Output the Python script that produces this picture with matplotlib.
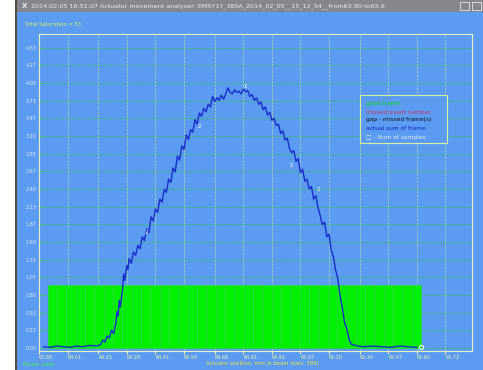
import numpy as np
from matplotlib import pyplot as plt
from matplotlib.patches import Rectangle

# actuator position (mm) and movement readings along the curve
pos = [63.90, 63.93, 63.96, 63.99, 64.02, 64.05, 64.08, 64.11, 64.14, 64.16,
       64.17, 64.18, 64.19, 64.20, 64.21, 64.22, 64.23, 64.235, 64.24, 64.245,
       64.25, 64.26, 64.265, 64.27, 64.28, 64.285, 64.29, 64.30, 64.31, 64.32,
       64.33, 64.34, 64.35, 64.36, 64.37, 64.38, 64.39, 64.40, 64.41, 64.42,
       64.43, 64.44, 64.45, 64.46, 64.47, 64.48, 64.49, 64.50, 64.51, 64.52,
       64.53, 64.54, 64.55, 64.56, 64.57, 64.58, 64.59, 64.60, 64.61, 64.62,
       64.63, 64.64, 64.65, 64.66, 64.67, 64.68, 64.69, 64.70, 64.71, 64.72,
       64.73, 64.74, 64.75, 64.76, 64.77, 64.78, 64.79, 64.80, 64.81, 64.82,
       64.83, 64.84, 64.85, 64.86, 64.87, 64.88, 64.89, 64.90, 64.91, 64.92,
       64.93, 64.94, 64.95, 64.96, 64.97, 64.98, 64.99, 65.00, 65.01, 65.02,
       65.03, 65.04, 65.05, 65.06, 65.07, 65.08, 65.09, 65.10, 65.11, 65.12,
       65.13, 65.14, 65.15, 65.16, 65.17, 65.18, 65.19, 65.20, 65.21, 65.22,
       65.23, 65.24, 65.25, 65.26, 65.27, 65.28, 65.29, 65.30, 65.33, 65.36,
       65.40, 65.44, 65.48, 65.52, 65.56, 65.60]
move = [0.02, 0.01, 0.03, 0.02, 0.01, 0.03, 0.02, 0.04, 0.03, 0.05,
        0.12, 0.09, 0.18, 0.15, 0.27, 0.22, 0.38, 0.55, 0.48, 0.72,
        0.62, 0.88, 1.12, 1.02, 1.25, 1.18, 1.35, 1.28, 1.45, 1.40,
        1.55, 1.50, 1.68, 1.62, 1.80, 1.74, 1.98, 1.92, 2.10, 2.05,
        2.25, 2.20, 2.40, 2.35, 2.55, 2.50, 2.72, 2.66, 2.90, 2.84,
        3.05, 3.00, 3.22, 3.15, 3.30, 3.26, 3.45, 3.38, 3.55, 3.50,
        3.62, 3.57, 3.68, 3.64, 3.80, 3.72, 3.78, 3.74, 3.82, 3.76,
        3.84, 3.93, 3.86, 3.84, 3.90, 3.86, 3.88, 3.84, 3.91, 3.87,
        3.89, 3.80, 3.83, 3.74, 3.78, 3.68, 3.72, 3.60, 3.64, 3.52,
        3.56, 3.44, 3.47, 3.36, 3.38, 3.24, 3.28, 3.14, 3.17, 3.02,
        2.95, 2.98, 2.82, 2.86, 2.65, 2.70, 2.52, 2.55, 2.40, 2.44,
        2.25, 2.30, 2.12, 2.00, 1.86, 1.90, 1.68, 1.72, 1.48, 1.38,
        1.18, 1.05, 0.80, 0.62, 0.40, 0.30, 0.15, 0.06, 0.03, 0.02,
        0.03, 0.02, 0.01, 0.03, 0.02, 0.01]

# number of samples histogram (all bins the same)
bin_start = 63.92
bin_stop = 65.62
n_bins = 40
bin_height = 0.95

# little "2" markers (gap - missed frames)
gap_x = [64.37, 64.61, 64.82, 65.03, 65.15]
gap_y = [1.74, 3.34, 3.95, 2.76, 2.39]

xticks = [63.88, 64.01, 64.15, 64.28, 64.41, 64.54, 64.68, 64.81, 64.94,
          65.07, 65.20, 65.34, 65.47, 65.60, 65.73]
yticks = [0.00, 0.27, 0.53, 0.80, 1.07, 1.33, 1.60, 1.87, 2.13, 2.40,
          2.67, 2.93, 3.20, 3.47, 3.73, 4.00, 4.27, 4.53]

W, H = 483, 370
blue = '#5b9cf2'

fig = plt.figure(figsize=(W / 100, H / 100), dpi=100)
fig.patch.set_facecolor('white')

# window chrome, drawn in pixel units from the top left corner
def px_rect(x0, y0, x1, y1, z=-5, **kw):
    fig.add_artist(Rectangle((x0 / W, 1 - y1 / H), (x1 - x0) / W, (y1 - y0) / H,
                             transform=fig.transFigure, zorder=z, **kw))

px_rect(15, 0, 483, 370, facecolor=blue, edgecolor='none', z=-10)
px_rect(15, 0, 483, 12, facecolor='#85878c', edgecolor='none', z=-9)
px_rect(15, 0, 16.5, 370, facecolor='#5a4a40', edgecolor='none', z=-9)
px_rect(460, 2, 469, 10, facecolor='none', edgecolor='#e8e8e8', lw=0.6, z=-8)
px_rect(472, 2, 481, 10, facecolor='none', edgecolor='#e8e8e8', lw=0.6, z=-8)
fig.text(22 / W, 1 - 6 / H, 'X', fontsize=5, color='#e8e8e8', va='center', fontweight='bold')
fig.text(31 / W, 1 - 6 / H,
         '2014:02:05 16:51:07 Actuator movement analyser: EMSY1Y_385A_2014_02_05__15_12_54__from63.90-to65.6',
         fontsize=4.6, color='#eeeeee', va='center')
fig.text(25 / W, 1 - 24 / H, 'Total Saturation = 53', fontsize=3.8, color='#d8f060', va='center')
fig.text(262 / W, 1 - 363 / H, 'Actuator position, mm (k beam stats: 389)',
         fontsize=3.8, color='#f0e040', va='center', ha='center')
fig.text(23 / W, 1 - 365 / H, 'Mouse: zoom', fontsize=3.4, color='#40f040', va='center')

ax = fig.add_axes([39 / W, 1 - 351 / H, (472 - 39) / W, (351 - 34) / H])
ax.set_facecolor(blue)
ax.set_xlim(63.88, 65.851)
ax.set_ylim(-0.045, 4.743)

for yv in yticks:
    ax.axhline(yv, color='#3cb878', lw=0.55, ls=(0, (6, 1)), zorder=1)
for xv in xticks:
    ax.axvline(xv, color='#b0d4a8', lw=0.55, ls=(0, (3, 1.5)), zorder=1)

edges = np.linspace(bin_start, bin_stop, n_bins + 1)
ax.bar(edges[:-1], [bin_height] * n_bins, width=edges[1] - edges[0], align='edge',
       color='#00f000', edgecolor='#30d840', linewidth=0.4, zorder=2)

ax.plot(pos, move, color='#1a2ccc', lw=1.0, zorder=3)
for gx, gy in zip(gap_x, gap_y):
    ax.text(gx, gy, '2', fontsize=4, color='white', ha='center', va='center', zorder=4)
ax.plot([65.62], [0.02], 'o', ms=3, mfc='none', mec='white', mew=0.8, zorder=4)

ax.set_xticks(xticks)
ax.set_xticklabels(['%.2f' % v for v in xticks], ha='left')
ax.set_yticks(yticks)
ax.set_yticklabels(['%.2f' % v for v in yticks])
ax.tick_params(axis='x', length=2, color='#e8f0b0', labelsize=3.5, labelcolor='#e8f0b0', pad=1)
ax.tick_params(axis='y', length=2, color='#40d060', labelsize=3.5, labelcolor='#dde8f0', pad=2,
               direction='in')
for s in ax.spines.values():
    s.set_color('#e8f0c0')
    s.set_linestyle((0, (3, 1)))
    s.set_linewidth(0.8)

# legend box
px_rect(360, 95, 447, 143, facecolor=blue, edgecolor='#d8f0a0', lw=0.8, z=5)
leg_txt = ['good frame', 'missed event number', 'gap - missed frame(s)',
           'actual sum of frame', '\u25a1 - Num of samples']
leg_col = ['#00e000', '#d03060', '#101010', '#1020c0', '#e0eaf8']
leg_y = [103, 112, 120, 128, 137]
for t, c, yy in zip(leg_txt, leg_col, leg_y):
    fig.text(366 / W, 1 - yy / H, t, fontsize=4.2, color=c, va='center', zorder=6)

plt.savefig('out.png', dpi=100, facecolor=fig.get_facecolor())
